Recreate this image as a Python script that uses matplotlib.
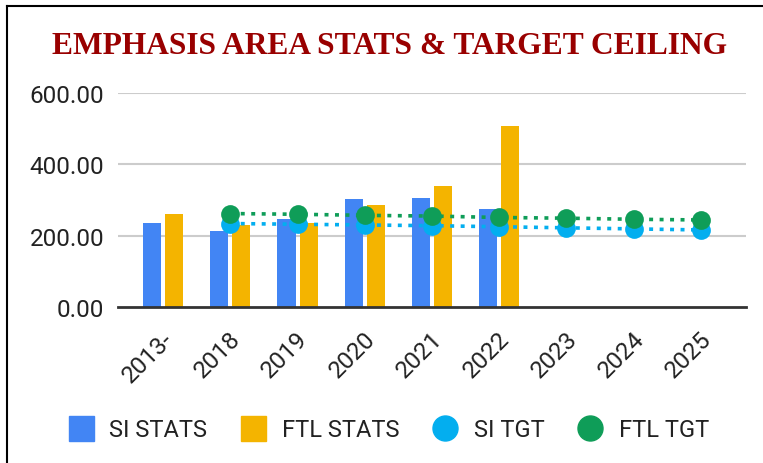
import matplotlib
matplotlib.use("Agg")
import matplotlib.pyplot as plt
from matplotlib.lines import Line2D
from matplotlib.transforms import ScaledTranslation

# chart data
years = ["2013-", "2018", "2019", "2020", "2021", "2022", "2023", "2024", "2025"]
si_stats = [235, 212, 246, 302, 307, 274]
ftl_stats = [262, 229, 235, 285, 340, 507]
tgt_years = ["2018", "2019", "2020", "2021", "2022", "2023", "2024", "2025"]
si_tgt = [234, 232, 230, 228, 225, 222, 219, 216]
ftl_tgt = [262, 260, 257, 255, 251, 249, 246, 244]
y_ticks = [0, 200, 400, 600]

C_SI = "#4285F4"
C_FTL = "#F4B400"
C_SI_TGT = "#03AEEF"
C_FTL_TGT = "#0F9D58"

plt.rcParams["font.family"] = ["Roboto", "DejaVu Sans"]

fig = plt.figure(figsize=(7.63, 4.64), dpi=100)
ax = fig.add_axes([118 / 763, 1 - 308 / 464, (746 - 118) / 763, (308 - 94) / 464])

x = list(range(len(years)))
bw = 0.268
off = 0.164
ax.bar([i - off for i in range(len(si_stats))], si_stats, width=bw, color=C_SI, zorder=2)
ax.bar([i + off for i in range(len(ftl_stats))], ftl_stats, width=bw, color=C_FTL, zorder=2)

tx = [years.index(y) for y in tgt_years]
dots = (0, (1.1, 1.8))
ax.plot(tx, si_tgt, color=C_SI_TGT, lw=2.6, ls=dots, zorder=3)
ax.plot(tx, ftl_tgt, color=C_FTL_TGT, lw=2.6, ls=dots, zorder=3)
ax.plot(tx, si_tgt, "o", color=C_SI_TGT, ms=13.5, mew=0, zorder=4)
ax.plot(tx, ftl_tgt, "o", color=C_FTL_TGT, ms=13.5, mew=0, zorder=5)

ax.set_xlim(-0.67, 8.67)
ax.set_ylim(0, 600)
ax.tick_params(axis="both", length=0)
ax.tick_params(axis="y", pad=10)
ax.tick_params(axis="x", pad=14)
ax.set_yticks(y_ticks)
ax.set_yticklabels(["{:.2f}".format(v) for v in y_ticks], fontsize=17.5, color="#222222")
ax.set_xticks(x)
ax.set_xticklabels(years, rotation=45, ha="right", fontsize=17.5, color="#222222")
# shift rotated labels right (after tick_params, which resets transforms)
for lab in ax.get_xticklabels():
    lab.set_transform(lab.get_transform() + ScaledTranslation(0.15, 0, fig.dpi_scale_trans))

for v in y_ticks[1:]:
    ax.axhline(v, color="#CCCCCC", lw=1.5, zorder=1)
ax.axhline(0, color="#333333", lw=2, zorder=6, clip_on=False)
for s in ax.spines.values():
    s.set_visible(False)

fig.text(0.511, 1 - 47 / 464, "EMPHASIS AREA STATS & TARGET CEILING",
         family="Liberation Serif", weight="bold", fontsize=22.7, color="#990000",
         ha="center", va="center")

handles = [
    Line2D([], [], marker="s", ls="none", color=C_SI, ms=18),
    Line2D([], [], marker="s", ls="none", color=C_FTL, ms=18),
    Line2D([], [], marker="o", ls="none", color=C_SI_TGT, ms=18),
    Line2D([], [], marker="o", ls="none", color=C_FTL_TGT, ms=18),
]
fig.legend(handles, ["SI STATS", "FTL STATS", "SI TGT", "FTL TGT"], ncol=4,
           loc="center", bbox_to_anchor=(389 / 763, 1 - 431 / 464), frameon=False,
           fontsize=17, handlelength=1.0, handletextpad=0.7, columnspacing=1.45,
           labelcolor="#222222")

fig.add_artist(Line2D([7 / 763, 1], [1 - 7 / 464] * 2, color="black", lw=1.5))
fig.add_artist(Line2D([7 / 763] * 2, [0, 1 - 7 / 464], color="black", lw=1.5))

fig.savefig("out.png", dpi=100)
